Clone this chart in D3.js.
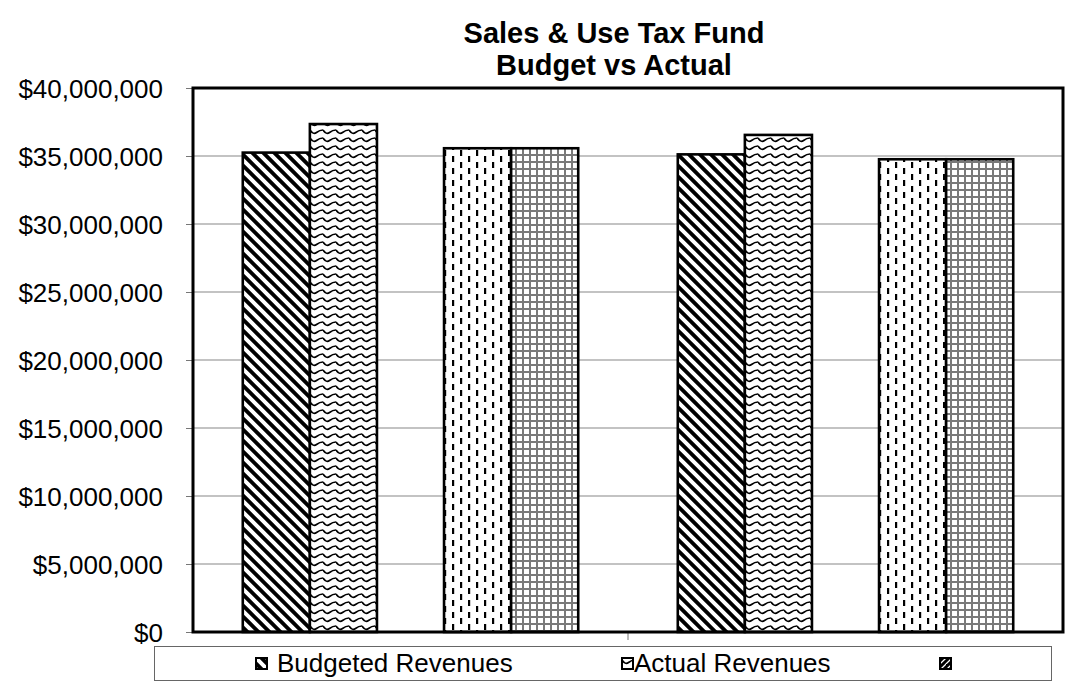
<!DOCTYPE html>
<html>
<head>
<meta charset="utf-8">
<script src="https://cdn.jsdelivr.net/npm/d3@7/dist/d3.min.js"></script>
<style>
  html, body { margin: 0; padding: 0; background: #fff; }
  svg { display: block; font-family: "Liberation Sans", Arial, sans-serif; }
</style>
</head>
<body>
<svg id="chart" width="1068" height="687"></svg>
<script>
// Two reporting periods, five series (the third has no values)
const categories = ["Period 1", "Period 2"];
const seriesNames = ["Budgeted Revenues", "Actual Revenues", "", "", ""];
const budgeted = [35250000, 35120000];
const actual   = [37350000, 36550000];
const series3  = [null, null];
const series4  = [35570000, 34760000];
const series5  = [35570000, 34760000];
const yTicks = [0, 5000000, 10000000, 15000000, 20000000, 25000000, 30000000, 35000000, 40000000];
const legendNames = ["Budgeted Revenues", "Actual Revenues", ""];

const seriesValues = [budgeted, actual, series3, series4, series5];
const patternIds = ["pDiag", "pWave", "pNone", "pDash", "pGrid"];
const legendPatterns = ["pDiag", "pWave", "pDiagInv"];

const svg = d3.select("#chart");
const plot = { left: 193, top: 88, right: 1063, bottom: 632 };

// ---- fill patterns ----
const defs = svg.append("defs");
function pattern(id, w, h) {
  const p = defs.append("pattern").attr("id", id)
    .attr("patternUnits", "userSpaceOnUse").attr("width", w).attr("height", h);
  p.append("rect").attr("width", w).attr("height", h).attr("fill", "#fff");
  return p;
}
pattern("pDiag", 11, 11).append("path")
  .attr("d", "M-5.5,0 L11,16.5 M0,-5.5 L16.5,11 M-5.5,-11 L22,16.5")
  .attr("stroke", "#000").attr("stroke-width", 3.8).attr("fill", "none");
pattern("pDiagInv", 6, 6).append("path")
  .attr("d", "M-3,6 L6,-3 M0,9 L9,0 M-3,3 L3,-3")
  .attr("stroke", "#000").attr("stroke-width", 3).attr("fill", "none");
pattern("pWave", 13, 8).append("path")
  .attr("d", "M0,2 Q3.25,7 6.5,4.5 Q9.75,2 13,2")
  .attr("stroke", "#000").attr("stroke-width", 1.6).attr("fill", "none");
const pd = pattern("pDash", 16, 12);
pd.append("rect").attr("x", 3).attr("y", 0).attr("width", 2.2).attr("height", 6).attr("fill", "#000");
pd.append("rect").attr("x", 11).attr("y", 6).attr("width", 2.2).attr("height", 6).attr("fill", "#000");
pattern("pGrid", 7, 7).append("path")
  .attr("d", "M1,0 V7 M0,1 H7")
  .attr("stroke", "#7a7a7a").attr("stroke-width", 2).attr("fill", "none");
pattern("pNone", 4, 4);

// ---- scales ----
const y = d3.scaleLinear().domain([0, 40000000]).range([plot.bottom, plot.top]);
const x0 = d3.scaleBand().domain(categories).range([plot.left, plot.right]).padding(0);
const x1 = d3.scaleBand().domain(d3.range(seriesNames.length))
  .range([0, x0.bandwidth()]).paddingInner(0).paddingOuter(0.742);

// ---- gridlines ----
svg.append("g").selectAll("line").data(yTicks.slice(1, -1)).join("line")
  .attr("x1", plot.left).attr("x2", plot.right)
  .attr("y1", d => y(d)).attr("y2", d => y(d))
  .attr("stroke", "#878787").attr("stroke-width", 1);

// ---- bars ----
const groups = svg.append("g").selectAll("g").data(categories).join("g")
  .attr("transform", d => `translate(${x0(d)},0)`);
groups.selectAll("rect")
  .data((c, ci) => seriesValues.map((vals, si) => ({ si, v: vals[ci] })).filter(d => d.v != null))
  .join("rect")
  .attr("x", d => x1(d.si))
  .attr("width", x1.bandwidth())
  .attr("y", d => y(d.v))
  .attr("height", d => y(0) - y(d.v))
  .attr("fill", d => `url(#${patternIds[d.si]})`)
  .attr("stroke", "#000").attr("stroke-width", 2.6);

// ---- y axis ----
const fmt = d => "$" + d3.format(",")(d);
const yAxis = svg.append("g").attr("transform", `translate(${plot.left},0)`)
  .call(d3.axisLeft(y).tickValues(yTicks).tickFormat(fmt).tickSize(7).tickPadding(23));
yAxis.select(".domain").remove();
yAxis.selectAll(".tick line").attr("stroke", "#777");
yAxis.selectAll(".tick text").attr("font-size", 26).attr("fill", "#000")
  .attr("font-family", "'Liberation Sans', Arial, sans-serif")
  .attr("dy", "0.36em");

// ---- category axis ticks (between categories) ----
const xAxis = svg.append("g").attr("transform", `translate(0,${plot.bottom})`)
  .call(d3.axisBottom(x0).tickValues([]).tickSize(0));
xAxis.select(".domain").remove();
xAxis.selectAll("line.sep").data(categories.slice(1)).join("line").attr("class", "sep")
  .attr("x1", d => x0(d)).attr("x2", d => x0(d))
  .attr("y1", 0).attr("y2", 8).attr("stroke", "#777");

// ---- plot border ----
svg.append("rect")
  .attr("x", plot.left).attr("y", plot.top)
  .attr("width", plot.right - plot.left).attr("height", plot.bottom - plot.top)
  .attr("fill", "none").attr("stroke", "#000").attr("stroke-width", 3);

// ---- title ----
const title = svg.append("g").attr("transform", "translate(614,0)");
title.append("text").attr("y", 43).attr("text-anchor", "middle")
  .attr("font-weight", "bold").attr("font-size", 29).text("Sales & Use Tax Fund");
title.append("text").attr("y", 75).attr("text-anchor", "middle")
  .attr("font-weight", "bold").attr("font-size", 29).text("Budget vs Actual");

// ---- legend ----
svg.append("rect").attr("x", 154.5).attr("y", 646.5).attr("width", 897).attr("height", 34)
  .attr("fill", "#fff").attr("stroke", "#666").attr("stroke-width", 1);
const legendX = [256, 622, 940];
const lg = svg.append("g").selectAll("g").data(legendNames).join("g")
  .attr("transform", (d, i) => `translate(${legendX[i]},658)`);
lg.append("rect").attr("width", 11).attr("height", 11)
  .attr("fill", (d, i) => `url(#${legendPatterns[i]})`)
  .attr("stroke", "#000").attr("stroke-width", 2);
lg.append("text").attr("x", (d, i) => i === 0 ? 21 : 12).attr("y", 14)
  .attr("font-size", 26).text(d => d);
</script>
</body>
</html>
